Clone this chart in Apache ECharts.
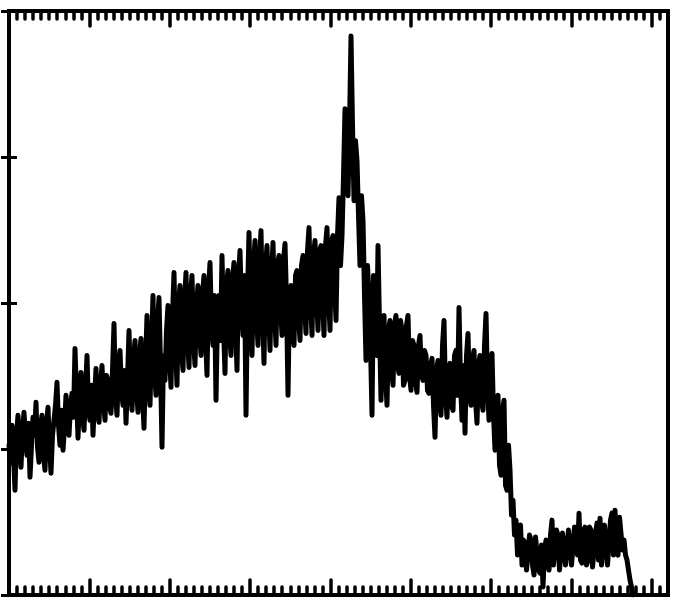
<!DOCTYPE html>
<html>
<head>
<meta charset="utf-8">
<title>spectrum</title>
<script src="https://cdn.jsdelivr.net/npm/echarts@6/dist/echarts.min.js"></script>
<style>
  html, body { margin: 0; padding: 0; background: #fff; }
  #main { width: 673px; height: 601px; }
</style>
</head>
<body>
<div id="main"></div>
<script>
// x axis range (arbitrary channel units, no labels in the original)
var xMin = 0;
var xMax = 82;
var xMajor = 10;
var xMinor = 1;
// y axis range, 4 equal divisions
var yMin = 0;
var yMax = 585;
var yStep = 146.25;
// spacing between samples along x
var sampleStep = 0.18665;

// counts, one per sample
var counts = [
  150, 132, 170, 140, 105, 160, 180, 150, 128, 165, 183, 158, 140, 172, 118, 150, 178, 160, 193, 148,
  133, 168, 180, 140, 125, 170, 188, 150, 122, 160, 175, 190, 213, 170, 150, 185, 145, 168, 200, 175,
  160, 190, 202, 178, 247, 200, 157, 195, 223, 180, 165, 205, 240, 185, 175, 210, 160, 195, 227, 185,
  173, 210, 230, 195, 175, 220, 215, 190, 182, 225, 272, 200, 180, 230, 245, 205, 190, 225, 172, 215,
  265, 210, 185, 235, 255, 205, 183, 240, 257, 200, 167, 230, 280, 215, 190, 250, 300, 225, 200, 270,
  298, 230, 148, 240, 215, 265, 290, 240, 208, 280, 323, 250, 210, 290, 310, 245, 225, 295, 323, 260,
  228, 300, 320, 255, 230, 290, 310, 265, 240, 300, 320, 260, 220, 305, 333, 270, 250, 300, 195, 280,
  300, 255, 340, 270, 222, 310, 325, 265, 240, 315, 333, 270, 225, 320, 345, 290, 260, 320, 180, 300,
  363, 290, 240, 330, 355, 280, 250, 335, 365, 285, 232, 330, 350, 290, 245, 320, 353, 285, 250, 330,
  340, 290, 260, 335, 352, 295, 200, 300, 310, 270, 250, 320, 325, 280, 255, 330, 340, 290, 262, 345,
  368, 295, 260, 340, 355, 300, 265, 345, 350, 295, 260, 350, 368, 300, 265, 355, 360, 310, 275, 360,
  398, 330, 360, 420, 487, 420, 400, 470, 560, 470, 395, 455, 435, 380, 330, 400, 375, 300, 235, 330,
  300, 250, 180, 320, 290, 240, 350, 270, 195, 260, 280, 220, 190, 265, 275, 225, 210, 270, 280, 230,
  222, 275, 265, 210, 215, 270, 280, 220, 205, 255, 250, 215, 203, 250, 260, 220, 215, 245, 240, 205,
  202, 230, 237, 190, 158, 225, 235, 195, 180, 250, 275, 200, 178, 225, 232, 190, 185, 240, 245, 200,
  288, 215, 175, 230, 162, 240, 262, 200, 190, 235, 245, 195, 172, 230, 240, 195, 185, 250, 282, 210,
  175, 225, 242, 180, 145, 195, 200, 130, 120, 185, 195, 110, 105, 150, 125, 80, 95, 60, 75, 40,
  45, 70, 30, 55, 52, 25, 23, 60, 55, 30, 20, 58, 57, 25, 22, 50, 8, 45, 55, 30,
  25, 60, 75, 30, 30, 65, 60, 25, 23, 62, 62, 30, 30, 65, 65, 30, 32, 68, 70, 40,
  82, 35, 32, 65, 68, 30, 35, 68, 65, 28, 30, 62, 72, 35, 77, 30, 28, 70, 68, 30,
  30, 75, 82, 40, 85, 45, 40, 78, 80, 45, 55, 40, 35, 25, 15, 8,
  0
];

var seriesData = counts.map(function (c, i) {
  return [i * sampleStep, c];
});

var chart = echarts.init(document.getElementById("main"));

// one x axis per tick size, on both top and bottom
function makeXAxis(position, interval, len, width) {
  return {
    type: "value",
    position: position,
    min: xMin,
    max: xMax,
    interval: interval,
    axisLine: { show: false },
    axisLabel: { show: false },
    splitLine: { show: false },
    axisTick: {
      show: true,
      inside: true,
      length: len,
      lineStyle: { color: "#000", width: width, cap: "round" }
    }
  };
}

function makeYAxis(position) {
  return {
    type: "value",
    position: position,
    min: yMin,
    max: yMax,
    interval: yStep,
    axisLine: { show: false },
    axisLabel: { show: false },
    splitLine: { show: false },
    axisTick: {
      show: true,
      inside: true,
      length: 8,
      lineStyle: { color: "#000", width: 3 }
    }
  };
}

var option = {
  animation: false,
  backgroundColor: "#fff",
  grid: {
    left: 9,
    right: 5,
    top: 11,
    bottom: 6,
    show: true,
    borderColor: "#000",
    borderWidth: 4,
    backgroundColor: "transparent"
  },
  xAxis: [
    makeXAxis("bottom", xMajor, 15, 3.5),
    makeXAxis("bottom", xMinor, 8, 3.5),
    makeXAxis("top", xMajor, 15, 3.5),
    makeXAxis("top", xMinor, 8, 3.5)
  ],
  yAxis: [makeYAxis("left"), makeYAxis("right")],
  series: [
    {
      type: "line",
      xAxisIndex: 0,
      yAxisIndex: 0,
      data: seriesData,
      showSymbol: false,
      symbol: "none",
      smooth: false,
      clip: true,
      lineStyle: { color: "#000", width: 5, join: "round", cap: "round" }
    }
  ]
};

chart.setOption(option);
</script>
</body>
</html>
